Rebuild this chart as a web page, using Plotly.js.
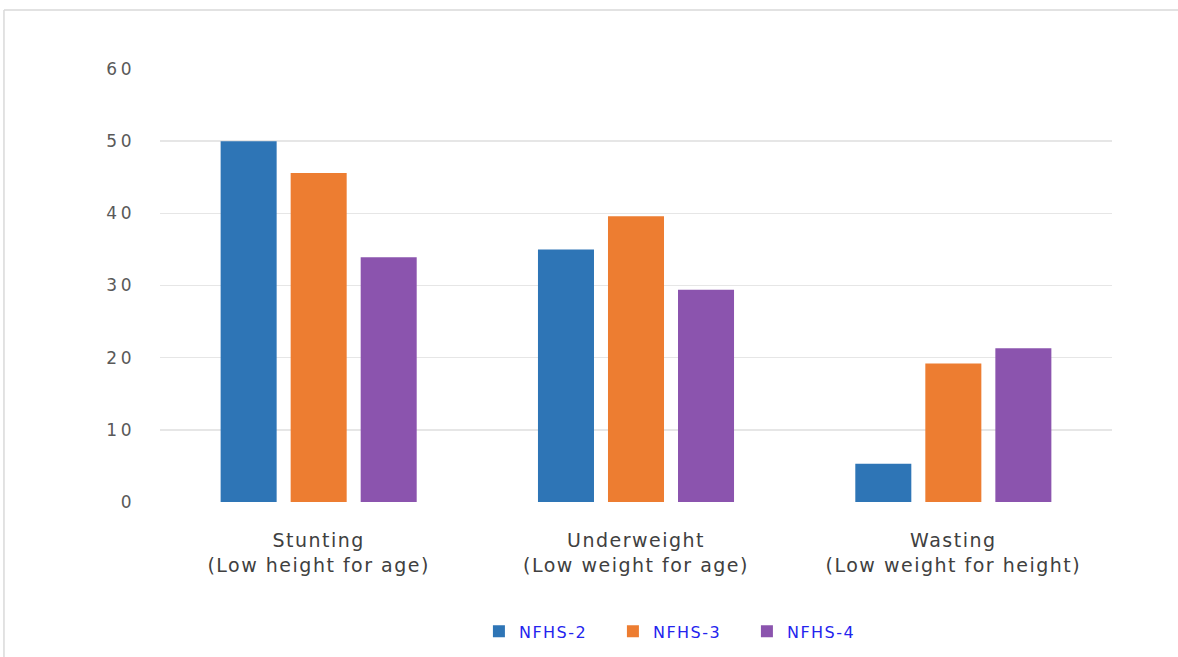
<!DOCTYPE html>
<html>
<head>
<meta charset="utf-8">
<script src="https://cdn.plot.ly/plotly-3.0.1.min.js"></script>
<style>
html,body{margin:0;padding:0;background:#fff;}
#chart{width:1178px;height:657px;}
#chart .xtick text{letter-spacing:1.5px;}
#chart .ytick text{letter-spacing:3.5px;}
#chart .legendtext{letter-spacing:1.5px;}
</style>
</head>
<body>
<div id="chart"></div>
<script>
const categories = ["Stunting<br>(Low height for age)", "Underweight<br>(Low weight for age)", "Wasting<br>(Low weight for height)"];
const seriesNames = ["NFHS-2", "NFHS-3", "NFHS-4"];
const nfhs2 = [50, 35, 5.3];
const nfhs3 = [45.6, 39.6, 19.2];
const nfhs4 = [33.9, 29.4, 21.3];
const yTicks = [0, 10, 20, 30, 40, 50, 60];
const colors = ["#2E75B6", "#ED7D31", "#8B54AE"];

const values = [nfhs2, nfhs3, nfhs4];
const traces = values.map((v, i) => ({
  type: "bar",
  name: seriesNames[i],
  x: categories,
  y: v,
  marker: {color: colors[i]},
  hoverinfo: "x+y"
}));

const layout = {
  width: 1178, height: 657,
  margin: {l: 160, r: 66, t: 69, b: 155, autoexpand: false},
  paper_bgcolor: "#fff", plot_bgcolor: "#fff",
  barmode: "group", bargap: 0.338, bargroupgap: 0.2,
  font: {family: "DejaVu Sans, sans-serif", color: "#595959"},
  xaxis: {
    tickfont: {size: 19, color: "#404040"},
    showgrid: false, zeroline: false, showline: false, ticks: "",
    ticklabelstandoff: 25, automargin: false
  },
  yaxis: {
    range: [0, 60], tickvals: yTicks, ticktext: yTicks.map(String),
    tickfont: {size: 17, color: "#595959"},
    showgrid: true, gridcolor: "#e6e6e6", gridwidth: 1.5,
    zeroline: false, showline: false, ticks: "",
    ticklabelstandoff: 24, automargin: false
  },
  legend: {
    orientation: "h", x: 0.335, xanchor: "left", y: -0.299, yanchor: "middle",
    font: {size: 16, color: "#2424ee"}, itemwidth: 30, traceorder: "normal",
    entrywidth: 89, entrywidthmode: "pixels"
  },
  shapes: [
    {type: "line", xref: "paper", yref: "paper", x0: -0.1639, x1: 1.2, y0: 1.1364, y1: 1.1364, line: {color: "#d9d9d9", width: 1.5}},
    {type: "line", xref: "paper", yref: "paper", x0: -0.1639, x1: -0.1639, y0: 1.1364, y1: -0.4, line: {color: "#d9d9d9", width: 1.5}}
  ]
};

Plotly.newPlot("chart", traces, layout, {displayModeBar: false, staticPlot: true});
</script>
</body>
</html>
